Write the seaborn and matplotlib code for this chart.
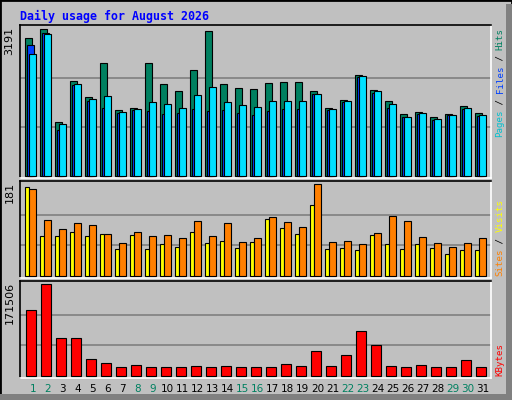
import matplotlib
matplotlib.use("Agg")
import matplotlib.pyplot as plt
import seaborn as sns
from matplotlib.patches import Rectangle

sns.set_style("white")
plt.rcParams['font.family'] = ['DejaVu Sans']

days = list(range(1, 32))
hits = [2912, 3102, 1139, 2011, 1667, 2384, 1393, 1435, 2384, 1941, 1794, 2237, 3060, 1941, 1857, 1836,
        1962, 1983, 1983, 1794, 1435, 1604, 2131, 1815, 1583, 1308, 1350, 1245, 1308, 1477, 1329]
files = [2764, 3038, 971, 1920, 1583, 1435, 1329, 1393, 1372, 1308, 1329, 1414, 1372, 1393, 1329, 1287,
         1372, 1414, 1414, 1730, 1393, 1561, 2089, 1751, 1435, 1245, 1308, 1182, 1287, 1414, 1266]
pages = [2574, 3000, 1097, 1941, 1625, 1688, 1350, 1414, 1561, 1519, 1435, 1709, 1878, 1561, 1498, 1456,
         1583, 1583, 1583, 1730, 1414, 1583, 2110, 1794, 1519, 1245, 1329, 1203, 1287, 1435, 1287]
visits = [175, 78, 78, 86, 78, 82, 53, 80, 53, 64, 57, 86, 66, 70, 55, 68,
          112, 94, 82, 140, 53, 55, 51, 80, 64, 53, 64, 55, 43, 51, 51]
sites = [171, 110, 92, 104, 100, 82, 66, 86, 78, 80, 74, 108, 78, 104, 68, 74,
         116, 106, 96, 181, 68, 70, 64, 84, 118, 108, 76, 66, 57, 66, 74]
kbytes = [122683, 171506, 70105, 70105, 30671, 23160, 15649, 19404, 15649, 15649, 15649, 17526, 15649,
          17526, 15649, 15649, 15649, 21282, 17526, 45694, 17526, 38182, 83250, 56961, 17526, 15649,
          19404, 15649, 15649, 28793, 15649]
weekend = [1, 2, 8, 9, 15, 16, 22, 23, 29, 30]

BG = "#C0C0C0"
fig = plt.figure(figsize=(5.12, 4.0), dpi=100, facecolor=BG)
fig.patches.append(Rectangle((0, 0), 1, 1, transform=fig.transFigure, fill=False,
                             edgecolor="black", lw=2))
fig.patches.append(Rectangle((0.988, 0.0), 0.012, 0.99, transform=fig.transFigure,
                             facecolor="#808080", edgecolor="none"))
fig.patches.append(Rectangle((0.0, 0.0), 0.99, 0.015, transform=fig.transFigure,
                             facecolor="#808080", edgecolor="none"))

L, W = 20 / 512, 470.7 / 512
ax1 = fig.add_axes([L, 1 - 177.5 / 400, W, 152.5 / 400])
ax2 = fig.add_axes([L, 1 - 278.3 / 400, W, 97.6 / 400])
ax3 = fig.add_axes([L, 1 - 378 / 400, W, 97.3 / 400])

u = 1 / 15.0
x = [d - 0.3 for d in days]
ec = dict(edgecolor="black", linewidth=0.8, align="edge", zorder=3)

ax1.bar(x, hits, width=7 * u, color="#008060", **ec)
ax1.bar([v + 2 * u for v in x], files, width=7 * u, color="#0040ff", **ec)
ax1.bar([v + 4 * u for v in x], pages, width=7 * u, color="#00e0ff", **ec)
ax2.bar(x, visits, width=4 * u, color="#ffff00", **ec)
ax2.bar([v + 4 * u for v in x], sites, width=7 * u, color="#ff8000", **ec)
ax3.bar([v + u for v in x], kbytes, width=10 * u, color="#ff0000", **ec)

mx = [max(hits), max(sites), max(kbytes)]
ylims = [(-25, 3197), (-4.5, 188), (-4300, 178500)]
labels = ["3191", "181", "171506"]
for ax, m, yl, lab in zip([ax1, ax2, ax3], mx, ylims, labels):
    ax.set_facecolor(BG)
    ax.set_xlim(0.347, 31.73)
    ax.set_ylim(*yl)
    for g in (m / 3, 2 * m / 3):
        ax.axhline(g, color="#808080", lw=1.2, zorder=1)
    ax.set_xticks([])
    ax.set_yticks([])
    for s in ("left", "top"):
        ax.spines[s].set_color("black")
    for s in ("right", "bottom"):
        ax.spines[s].set_color("white")
    for s in ax.spines.values():
        s.set_linewidth(1.2)
    ax.text(-0.012, 0.99, lab, transform=ax.transAxes, rotation=90, ha="right", va="top",
            fontsize=8, color="black")

fig.text(20 / 512, 1 - 16 / 400, "Daily usage for August 2026", fontsize=8.4,
         family="DejaVu Sans Mono", weight="bold", color="#0000ff", va="center", ha="left")

def right_label(segments, y_bottom_px):
    cw = 5.45
    y = y_bottom_px
    for txt, col in segments:
        fig.text(500 / 512, 1 - y / 400, txt, rotation=90, fontsize=6.6,
                 family="DejaVu Sans Mono", color=col, ha="center", va="bottom")
        y -= cw * len(txt)

right_label([("Pages", "#00c0d0"), (" / ", "#000000"), ("Files", "#0040ff"),
             (" / ", "#000000"), ("Hits", "#008060")], 137)
right_label([("Sites", "#ff8000"), (" / ", "#000000"), ("Visits", "#ffff00")], 276)
right_label([("KBytes", "#ff0000")], 376)

for d in days:
    xf = ax3.transData.transform((d + 0.2, 0))[0]
    fig.text(xf / 512, 1 - 389 / 400, str(d), fontsize=7.5, ha="center", va="center",
             color="#008060" if d in weekend else "black")

fig.savefig("out.png", dpi=100, facecolor=BG)
